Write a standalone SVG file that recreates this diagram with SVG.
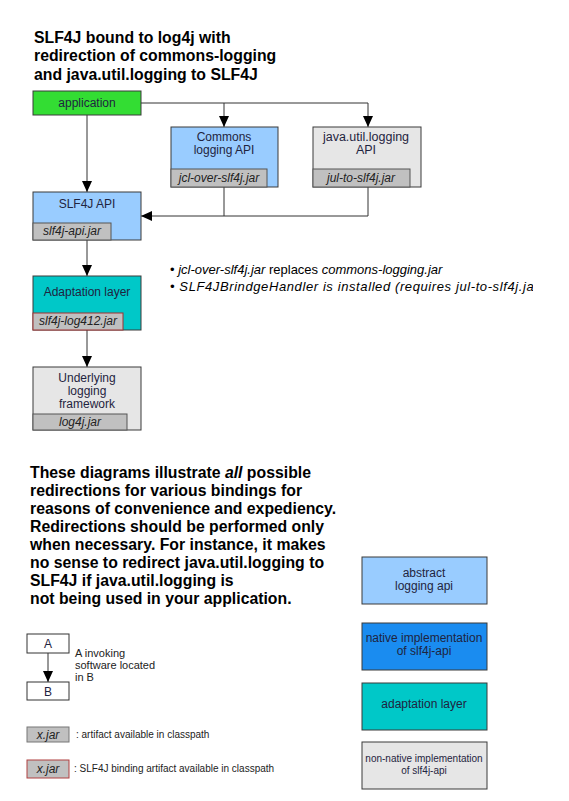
<svg xmlns="http://www.w3.org/2000/svg" width="569" height="801" viewBox="0 0 569 801">
<defs>
<style>
text{font-family:"Liberation Sans",Arial,sans-serif;}
.title{font-size:15.8px;font-weight:bold;fill:#000;}
.para{font-size:15.8px;font-weight:bold;fill:#000;}
.lbl{font-size:12px;fill:#1f2440;text-anchor:middle;}
.jt{font-size:12px;font-style:italic;fill:#222;text-anchor:middle;}
.small{font-size:10px;fill:#222;}
.note{font-size:13px;fill:#000;}
.node{stroke:#3a3a3a;stroke-width:1;}
.jar{fill:#c0c0c0;stroke:#555;stroke-width:1;}
.jarred{fill:#c0c0c0;stroke:#a03030;stroke-width:1;}
.conn{fill:none;stroke:#333;stroke-width:1;}
</style>
<marker id="ah" markerUnits="userSpaceOnUse" markerWidth="12" markerHeight="10" refX="11" refY="5" orient="auto">
<path d="M0,0 L11,5 L0,10 z" fill="#000"/>
</marker>
<clipPath id="clipNote"><rect x="160" y="255" width="373" height="45"/></clipPath>
</defs>
<rect x="0" y="0" width="569" height="801" fill="#fff"/>

<g id="title">
<text class="title" x="34" y="43">SLF4J bound to log4j with</text>
<text class="title" x="34" y="61">redirection of commons-logging</text>
<text class="title" x="34" y="80">and java.util.logging to SLF4J</text>
</g>

<g id="connectors">
<path class="conn" d="M87,115 V192" marker-end="url(#ah)"/>
<path class="conn" d="M141,103 H368 V127" marker-end="url(#ah)"/>
<path class="conn" d="M224,103 V127" marker-end="url(#ah)"/>
<path class="conn" d="M224,187 V216 H141" marker-end="url(#ah)"/>
<path class="conn" d="M368,187 V216 H224"/>
<path class="conn" d="M87,240 V276" marker-end="url(#ah)"/>
<path class="conn" d="M87,330 V367" marker-end="url(#ah)"/>
<path class="conn" d="M48,653 V682" marker-end="url(#ah)"/>
</g>

<g id="application">
<rect class="node" x="33" y="91" width="108" height="24" fill="#33dd33"/>
<text class="lbl" x="87" y="107">application</text>
</g>

<g id="commons">
<rect class="node" x="171" y="127" width="107" height="60" fill="#99ccff"/>
<text class="lbl" x="224" y="141">Commons</text>
<text class="lbl" x="224" y="154">logging API</text>
<rect class="jar" x="171" y="169" width="96" height="18"/>
<text class="jt" x="219" y="182">jcl-over-slf4j.jar</text>
</g>

<g id="jul">
<rect class="node" x="313" y="127" width="108" height="60" fill="#e6e6e6"/>
<text class="lbl" x="366" y="141" style="font-size:12.5px">java.util.logging</text>
<text class="lbl" x="366" y="154" style="font-size:12.5px">API</text>
<rect class="jar" x="313" y="169" width="97" height="18"/>
<text class="jt" x="361" y="182">jul-to-slf4j.jar</text>
</g>

<g id="slf4japi">
<rect class="node" x="33" y="192" width="108" height="48" fill="#99ccff"/>
<text class="lbl" x="87" y="208">SLF4J API</text>
<rect class="jar" x="33" y="223" width="78" height="17"/>
<text class="jt" x="72" y="235">slf4j-api.jar</text>
</g>

<g id="adaptation">
<rect class="node" x="33" y="276" width="108" height="54" fill="#00c8c8"/>
<text class="lbl" x="87" y="296">Adaptation layer</text>
<rect class="jarred" x="33" y="313" width="90" height="17"/>
<text class="jt" x="78" y="325">slf4j-log412.jar</text>
</g>

<g id="underlying">
<rect class="node" x="33" y="367" width="108" height="63" fill="#e6e6e6"/>
<text class="lbl" x="87" y="382">Underlying</text>
<text class="lbl" x="87" y="395">logging</text>
<text class="lbl" x="87" y="408">framework</text>
<rect class="jar" x="33" y="414" width="94" height="16"/>
<text class="jt" x="80" y="426">log4j.jar</text>
</g>

<g id="notes" clip-path="url(#clipNote)">
<text class="note" x="170" y="274">• <tspan font-style="italic">jcl-over-slf4j.jar</tspan> replaces <tspan font-style="italic">commons-logging.jar</tspan></text>
<text class="note" x="170" y="291" font-style="italic" letter-spacing="0.6">• SLF4JBrindgeHandler is installed (requires jul-to-slf4j.jar)</text>
</g>

<g id="paragraph">
<text class="para" x="30" y="478">These diagrams illustrate <tspan font-style="italic">all</tspan> possible</text>
<text class="para" x="30" y="496">redirections for various bindings for</text>
<text class="para" x="30" y="514">reasons of convenience and expediency.</text>
<text class="para" x="30" y="532">Redirections should be performed only</text>
<text class="para" x="30" y="550">when necessary. For instance, it makes</text>
<text class="para" x="30" y="568">no sense to redirect java.util.logging to</text>
<text class="para" x="30" y="586">SLF4J if java.util.logging is</text>
<text class="para" x="30" y="604">not being used in your application.</text>
</g>

<g id="legend-a">
<rect x="27" y="634" width="42" height="19" fill="#fff" stroke="#333"/>
<text class="lbl" x="48" y="648" fill="#222">A</text>
</g>
<g id="legend-b">
<rect x="27" y="682" width="42" height="18" fill="#fff" stroke="#333"/>
<text class="lbl" x="48" y="696" fill="#222">B</text>
</g>
<g id="legend-ab-text">
<text class="small" x="75" y="657" style="font-size:11px">A invoking</text>
<text class="small" x="75" y="669" style="font-size:11px">software located</text>
<text class="small" x="75" y="681" style="font-size:11px">in B</text>
</g>

<g id="legend-jar">
<rect x="27" y="727" width="42" height="15" fill="#c0c0c0" stroke="#777"/>
<text class="jt" x="48" y="739">x.jar</text>
<text class="small" x="76" y="738">: artifact available in classpath</text>
</g>
<g id="legend-binding">
<rect x="27" y="760" width="42" height="18" fill="#c0c0c0" stroke="#b04040"/>
<text class="jt" x="48" y="773">x.jar</text>
<text class="small" x="74" y="772">: SLF4J binding artifact available in classpath</text>
</g>

<g id="legend-abstract">
<rect class="node" x="362" y="557" width="125" height="47" fill="#99ccff"/>
<text class="lbl" x="424" y="577">abstract</text>
<text class="lbl" x="424" y="590">logging api</text>
</g>
<g id="legend-native">
<rect class="node" x="362" y="623" width="125" height="47" fill="#1a8cf0"/>
<text class="lbl" x="424" y="642">native implementation</text>
<text class="lbl" x="424" y="655">of slf4j-api</text>
</g>
<g id="legend-adapt">
<rect class="node" x="362" y="683" width="125" height="47" fill="#00c8c8"/>
<text class="lbl" x="424" y="708">adaptation layer</text>
</g>
<g id="legend-nonnative">
<rect class="node" x="362" y="742" width="125" height="47" fill="#e6e6e6"/>
<text class="lbl" x="424" y="762" style="font-size:10px">non-native implementation</text>
<text class="lbl" x="424" y="774" style="font-size:10px">of slf4j-api</text>
</g>
</svg>
